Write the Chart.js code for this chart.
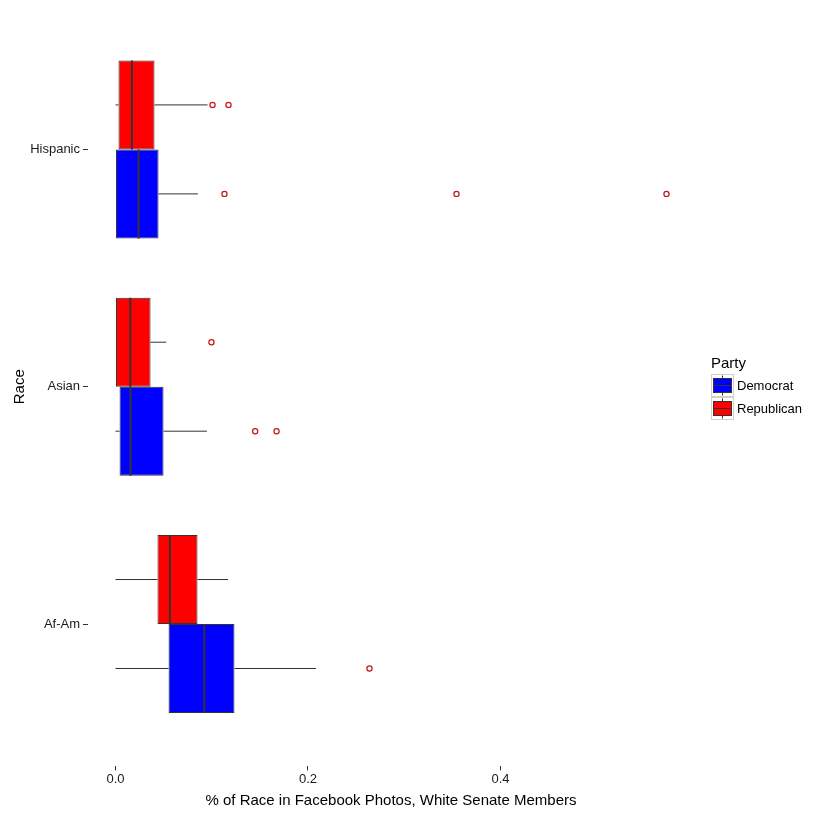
<!DOCTYPE html>
<html>
<head>
<meta charset="utf-8">
<script src="https://cdn.jsdelivr.net/npm/chart.js@4"></script>
<style>
  body { margin: 0; background: #fff; }
  #wrap { width: 826px; height: 816px; position: relative; }
</style>
</head>
<body>
<div id="wrap"><canvas id="chart"></canvas></div>
<script>
// categories sit at 1, 2, 3 on the y axis, bottom to top
const categories = ['Af-Am', 'Asian', 'Hispanic'];
const xTicks = [0, 0.2, 0.4];

// Democrat box stats per category
const demLow = [0, 0, 0];
const demQ1 = [0.0551, 0.0042, 0.0];
const demMedian = [0.0922, 0.0156, 0.0239];
const demQ3 = [0.1236, 0.0499, 0.0447];
const demHigh = [0.2082, 0.0950, 0.0856];
const demOutliers = [[0.2639], [0.1451, 0.1673], [0.1132, 0.3543, 0.5725]];

// Republican box stats per category
const repLow = [0, 0, 0];
const repQ1 = [0.0436, 0.0, 0.0031];
const repMedian = [0.0565, 0.0153, 0.0170];
const repQ3 = [0.0852, 0.0364, 0.0405];
const repHigh = [0.1168, 0.0527, 0.0956];
const repOutliers = [[], [0.0997], [0.1008, 0.1174]];

const font = 'Liberation Sans, Arial, sans-serif';
const half = 0.1875; // half the height of one box in category units
const blue = '#0000ff';
const red = '#ff0000';
const lineCol = '#333333';

function boxBars(q1, q3) {
    return categories.map((c, i) => ({ x: [q1[i], q3[i]], y: i + 1 }));
}

// whisker segments, split by nulls
function whiskers(low, q1, q3, high, off) {
    let pts = [];
    categories.forEach((c, i) => {
        const y = i + 1 + off;
        pts.push({ x: low[i], y: y }, { x: q1[i], y: y }, { x: null, y: null });
        pts.push({ x: q3[i], y: y }, { x: high[i], y: y }, { x: null, y: null });
    });
    return pts;
}

function medians(med, off) {
    let pts = [];
    categories.forEach((c, i) => {
        const y = i + 1 + off;
        pts.push({ x: med[i], y: y - half }, { x: med[i], y: y + half }, { x: null, y: null });
    });
    return pts;
}

function outlierPts(list, off) {
    let pts = [];
    list.forEach((vals, i) => {
        vals.forEach(v => pts.push({ x: v, y: i + 1 + off }));
    });
    return pts;
}

const lineDefaults = { type: 'line', pointRadius: 0, borderColor: lineCol, fill: false, tension: 0, spanGaps: false };
const outlierDefaults = { type: 'scatter', pointRadius: 2.6, pointBorderWidth: 1.2, pointBorderColor: '#c41414', pointBackgroundColor: 'rgba(255,255,255,0)', showLine: false, clip: false };

// legend drawn by hand, like the ggplot key
const partyLegend = {
    id: 'partyLegend',
    afterDraw(chart) {
        const ctx = chart.ctx;
        ctx.save();
        ctx.fillStyle = '#000';
        ctx.font = '15px ' + font;
        ctx.textBaseline = 'middle';
        ctx.fillText('Party', 711, 364);
        const items = [['Democrat', blue], ['Republican', red]];
        items.forEach((it, i) => {
            const top = 374.5 + i * 23;
            ctx.strokeStyle = '#d0d0d0';
            ctx.lineWidth = 1;
            ctx.strokeRect(711.5, top, 22, 22);
            ctx.strokeStyle = lineCol;
            ctx.beginPath();
            ctx.moveTo(722.5, top + 1);
            ctx.lineTo(722.5, top + 21);
            ctx.stroke();
            ctx.fillStyle = it[1];
            ctx.fillRect(713.5, top + 4, 18, 14);
            ctx.strokeRect(713.5, top + 4, 18, 14);
            ctx.beginPath();
            ctx.moveTo(713.5, top + 11);
            ctx.lineTo(731.5, top + 11);
            ctx.stroke();
            ctx.fillStyle = '#000';
            ctx.font = '13px ' + font;
            ctx.fillText(it[0], 737, top + 11.5);
        });
        ctx.restore();
    }
};

new Chart(document.getElementById('chart'), {
    type: 'bar',
    data: {
        datasets: [
            Object.assign({ label: 'rep median', data: medians(repMedian, half), borderWidth: 2 }, lineDefaults),
            Object.assign({ label: 'dem median', data: medians(demMedian, -half), borderWidth: 2 }, lineDefaults),
            Object.assign({ label: 'rep outliers', data: outlierPts(repOutliers, half) }, outlierDefaults),
            Object.assign({ label: 'dem outliers', data: outlierPts(demOutliers, -half) }, outlierDefaults),
            {
                label: 'Republican', indexAxis: 'y', data: boxBars(repQ1, repQ3),
                backgroundColor: red, borderColor: lineCol, borderWidth: 1, borderSkipped: false,
                categoryPercentage: 0.75, barPercentage: 1
            },
            {
                label: 'Democrat', indexAxis: 'y', data: boxBars(demQ1, demQ3),
                backgroundColor: blue, borderColor: lineCol, borderWidth: 1, borderSkipped: false,
                categoryPercentage: 0.75, barPercentage: 1
            },
            Object.assign({ label: 'rep whiskers', data: whiskers(repLow, repQ1, repQ3, repHigh, half), borderWidth: 1 }, lineDefaults),
            Object.assign({ label: 'dem whiskers', data: whiskers(demLow, demQ1, demQ3, demHigh, -half), borderWidth: 1 }, lineDefaults)
        ]
    },
    options: {
        responsive: true,
        maintainAspectRatio: false,
        animation: false,
        layout: { padding: { top: 7, right: 132, left: 0, bottom: 0 } },
        plugins: {
            legend: { display: false },
            tooltip: { enabled: false }
        },
        scales: {
            x: {
                type: 'linear',
                offset: false,
                min: -0.0286,
                max: 0.6011,
                afterBuildTicks: axis => { axis.ticks = xTicks.map(v => ({ value: v })); },
                afterFit: axis => {
                    axis.height = 49.6;
                    axis.paddingLeft = 0;
                    axis.paddingRight = 0;
                },
                ticks: {
                    callback: v => v.toFixed(1),
                    color: '#1a1a1a',
                    font: { family: font, size: 13 },
                    padding: 1,
                    maxRotation: 0
                },
                grid: { offset: false, drawOnChartArea: false, drawTicks: true, tickLength: 4, tickColor: lineCol },
                border: { display: false },
                title: {
                    display: true,
                    text: '% of Race in Facebook Photos, White Senate Members',
                    color: '#000',
                    font: { family: font, size: 15 },
                    padding: { top: 0, bottom: 6 }
                }
            },
            y: {
                type: 'linear',
                offset: false,
                min: 0.4,
                max: 3.6,
                afterBuildTicks: axis => { axis.ticks = categories.map((c, i) => ({ value: i + 1 })); },
                afterFit: axis => {
                    axis.width = 88;
                    axis.paddingTop = 0;
                    axis.paddingBottom = 0;
                },
                ticks: {
                    callback: (v, i) => categories[i],
                    color: '#1a1a1a',
                    font: { family: font, size: 13 },
                    padding: 3
                },
                grid: { offset: false, drawOnChartArea: false, drawTicks: true, tickLength: 5, tickColor: lineCol },
                border: { display: false },
                title: {
                    display: true,
                    text: 'Race',
                    color: '#000',
                    font: { family: font, size: 15 },
                    padding: { top: 11, bottom: 0 }
                }
            }
        }
    },
    plugins: [partyLegend]
});
</script>
</body>
</html>
